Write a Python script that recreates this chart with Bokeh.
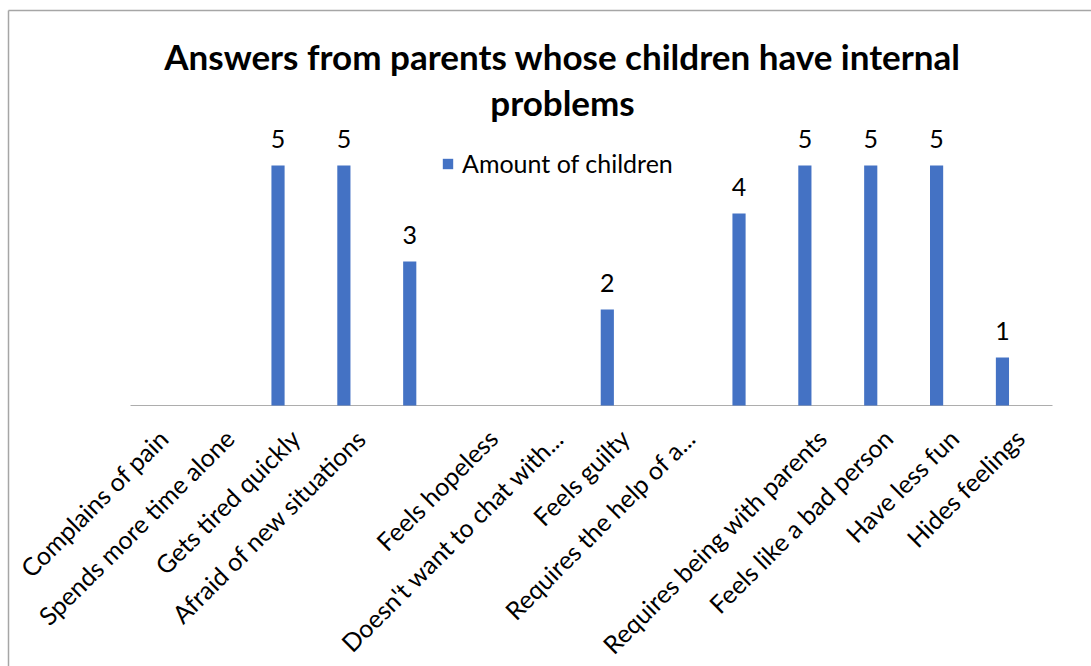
from bokeh.plotting import figure
from bokeh.models import Range1d, Legend, LegendItem, ColumnDataSource
from bokeh.transform import dodge
from bokeh.core.properties import value
from bokeh.embed import file_html
from bokeh.resources import INLINE
from math import pi

# ---- chart content ----
title_lines = ["Answers from parents whose children have internal", "problems"]
series_name = "Amount of children"
categories = [
    "Complains of pain",
    "Spends more time alone",
    "Gets tired quickly",
    "Afraid of new situations",
    "",
    "Feels hopeless",
    "Doesn't want to chat with...",
    "Feels guilty",
    "Requires the help of a...",
    "",
    "Requires being with parents",
    "Feels like a bad person",
    "Have less fun",
    "Hides feelings",
]
counts = [0, 0, 5, 5, 3, 0, 0, 2, 0, 4, 5, 5, 5, 1]

# ---- styling / layout ----
FONT = "Lato"
BAR_COLOR = "#4472C4"
TEXT_COLOR = "#000000"
W, H = 1091, 666
AREA_LEFT, AREA_RIGHT, BASELINE = 130, 1052, 405   # plot area in pixels
PX_PER_UNIT = 48                                     # vertical pixels per count

n = len(categories)
positions = list(range(n))
px_per_cat = (AREA_RIGHT - AREA_LEFT) / n


def xd(px):
    """Horizontal pixel -> data coordinate."""
    return -0.5 + (px - AREA_LEFT) / px_per_cat


def yd(py):
    """Vertical pixel (from top) -> data coordinate."""
    return (BASELINE - py) / PX_PER_UNIT


p = figure(width=W, height=H, output_backend="svg", toolbar_location=None,
           x_range=Range1d(xd(0), xd(W)), y_range=Range1d(yd(H), yd(0)),
           x_axis_type=None, y_axis_type=None, min_border=0)
p.outline_line_color = None
p.grid.visible = False
p.background_fill_color = "white"
p.border_fill_color = "white"

# chart-area frame (top and left edges)
p.segment(x0=[xd(8), xd(8)], y0=[yd(10), yd(10)],
          x1=[xd(W + 10), xd(8)], y1=[yd(10), yd(H + 10)],
          line_color="#A6A6A6", line_width=1.5)

# category axis line
p.segment(x0=[-0.5], y0=[0], x1=[n - 0.5], y1=[0],
          line_color="#ADADAD", line_width=1)

src = ColumnDataSource(dict(x=positions, count=counts))
bars = p.vbar(x=dodge("x", -0.26), top="count", width=0.2, source=src,
              fill_color=BAR_COLOR, line_color=None)

# value labels above non-empty bars
shown = [i for i, c in enumerate(counts) if c > 0]
lbl_src = ColumnDataSource(dict(
    x=[positions[i] for i in shown],
    count=[counts[i] for i in shown],
    text=[str(counts[i]) for i in shown],
))
p.text(x=dodge("x", -0.26), y="count", text="text", source=lbl_src,
       text_align="center", text_baseline="alphabetic", y_offset=-27,
       text_font=value(FONT), text_font_size="25px", text_color=TEXT_COLOR)

# rotated category labels under the axis
cat_idx = [i for i, c in enumerate(categories) if c]
cat_src = ColumnDataSource(dict(
    x=[positions[i] for i in cat_idx],
    y=[yd(BASELINE + 28)] * len(cat_idx),
    text=[categories[i] for i in cat_idx],
))
p.text(x="x", y="y", text="text", source=cat_src, angle=pi / 4,
       text_align="right", text_baseline="middle",
       text_font=value(FONT), text_font_size="25px", text_color=TEXT_COLOR)

# two-line title
p.text(x=[xd(562), xd(562)], y=[yd(55), yd(101)], text=title_lines,
       text_align="center", text_baseline="alphabetic",
       text_font=value(FONT), text_font_size="35px",
       text_font_style="bold", text_color=TEXT_COLOR)

legend = Legend(items=[LegendItem(label=series_name, renderers=[bars])],
                location=(441, H - 178), orientation="horizontal",
                glyph_width=13, glyph_height=13, label_standoff=8,
                label_text_font=FONT, label_text_font_size="25px",
                label_text_color=TEXT_COLOR,
                padding=0, margin=0, spacing=0,
                border_line_alpha=0, background_fill_alpha=0)
p.add_layout(legend)

open("out.html", "w").write(file_html(p, INLINE))
